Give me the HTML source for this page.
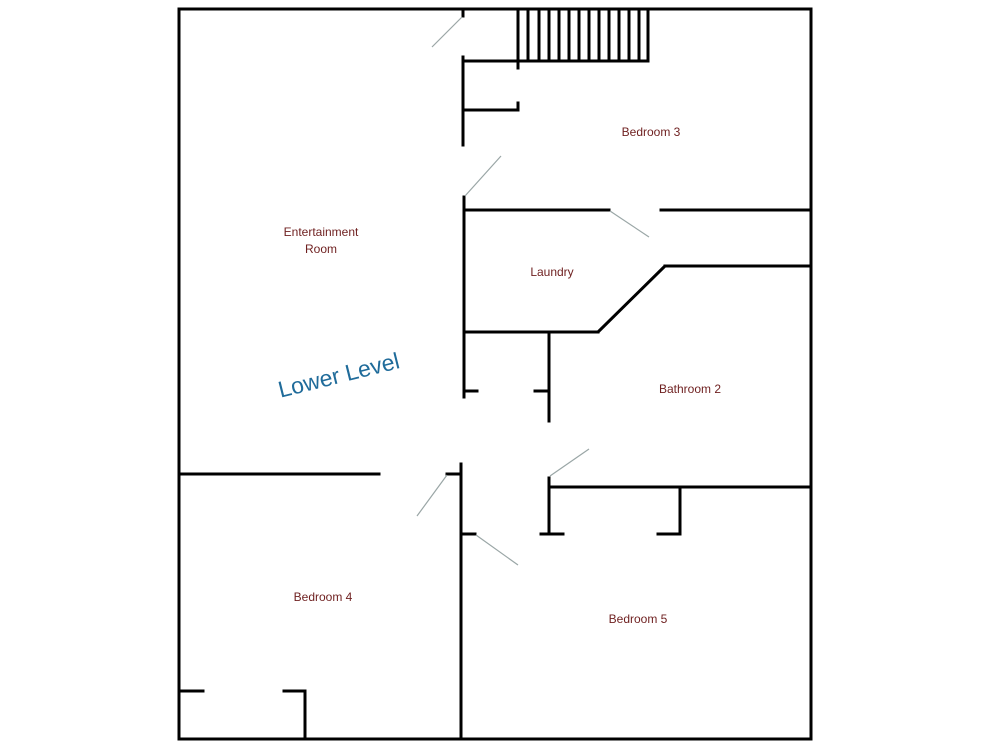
<!DOCTYPE html>
<html><head><style>html,body{margin:0;padding:0;background:#fff;}svg{display:block}</style></head>
<body>
<svg width="1000" height="750" viewBox="0 0 1000 750" xmlns="http://www.w3.org/2000/svg">
<g stroke="#000" stroke-width="3" fill="none" stroke-linecap="square">
<rect x="179" y="9" width="632" height="730"/>
<line x1="464" y1="61" x2="648" y2="61"/>
<line x1="518" y1="9" x2="518" y2="68"/>
<line x1="528" y1="9" x2="528" y2="61"/><line x1="539" y1="9" x2="539" y2="61"/>
<line x1="549" y1="9" x2="549" y2="61"/><line x1="559" y1="9" x2="559" y2="61"/>
<line x1="569" y1="9" x2="569" y2="61"/><line x1="579" y1="9" x2="579" y2="61"/>
<line x1="589" y1="9" x2="589" y2="61"/><line x1="599" y1="9" x2="599" y2="61"/>
<line x1="609" y1="9" x2="609" y2="61"/><line x1="619" y1="9" x2="619" y2="61"/>
<line x1="629" y1="9" x2="629" y2="61"/><line x1="639" y1="9" x2="639" y2="61"/>
<line x1="648" y1="9" x2="648" y2="61"/>
<line x1="463" y1="10" x2="463" y2="16"/>
<line x1="463" y1="57" x2="463" y2="145"/>
<line x1="463" y1="110" x2="518" y2="110"/>
<line x1="518" y1="103" x2="518" y2="110"/>
<line x1="464" y1="197" x2="464" y2="397"/>
<line x1="464" y1="210" x2="609" y2="210"/>
<line x1="661" y1="210" x2="811" y2="210"/>
<line x1="665" y1="266" x2="811" y2="266"/>
<line x1="665" y1="266" x2="598" y2="332" stroke-linecap="butt"/>
<line x1="464" y1="332" x2="598" y2="332"/>
<line x1="549" y1="332" x2="549" y2="421"/>
<line x1="464" y1="391" x2="477" y2="391"/>
<line x1="535" y1="391" x2="549" y2="391"/>
<line x1="461" y1="464" x2="461" y2="739"/>
<line x1="447" y1="474" x2="461" y2="474"/>
<line x1="461" y1="534" x2="475" y2="534"/>
<line x1="549" y1="478" x2="549" y2="534"/>
<line x1="549" y1="487" x2="811" y2="487"/>
<line x1="541" y1="534" x2="563" y2="534"/>
<line x1="680" y1="487" x2="680" y2="534"/>
<line x1="658" y1="534" x2="680" y2="534"/>
<line x1="179" y1="474" x2="379" y2="474"/>
<line x1="179" y1="691" x2="203" y2="691"/>
<line x1="284" y1="691" x2="305" y2="691"/>
<line x1="305" y1="691" x2="305" y2="739"/>
</g>
<g stroke="#9aa6a6" stroke-width="1.2">
<line x1="432" y1="47" x2="462" y2="17"/>
<line x1="465" y1="196" x2="501" y2="156"/>
<line x1="610" y1="211" x2="649" y2="237"/>
<line x1="447" y1="475" x2="417" y2="516"/>
<line x1="476" y1="535" x2="518" y2="565"/>
<line x1="550" y1="476" x2="589" y2="449"/>
</g>
<g font-family="Liberation Sans, sans-serif" font-size="12" fill="#6e1f1f" text-anchor="middle">
<text x="651" y="136">Bedroom 3</text>
<text x="321" y="236">Entertainment</text>
<text x="321" y="253">Room</text>
<text x="552" y="276">Laundry</text>
<text x="690" y="393">Bathroom 2</text>
<text x="323" y="601">Bedroom 4</text>
<text x="638" y="623">Bedroom 5</text>
</g>
<text x="339" y="383" font-family="Liberation Sans, sans-serif" font-size="23" fill="#1f6b9a" text-anchor="middle" transform="rotate(-14 339 376)">Lower Level</text>
</svg>
</body></html>
